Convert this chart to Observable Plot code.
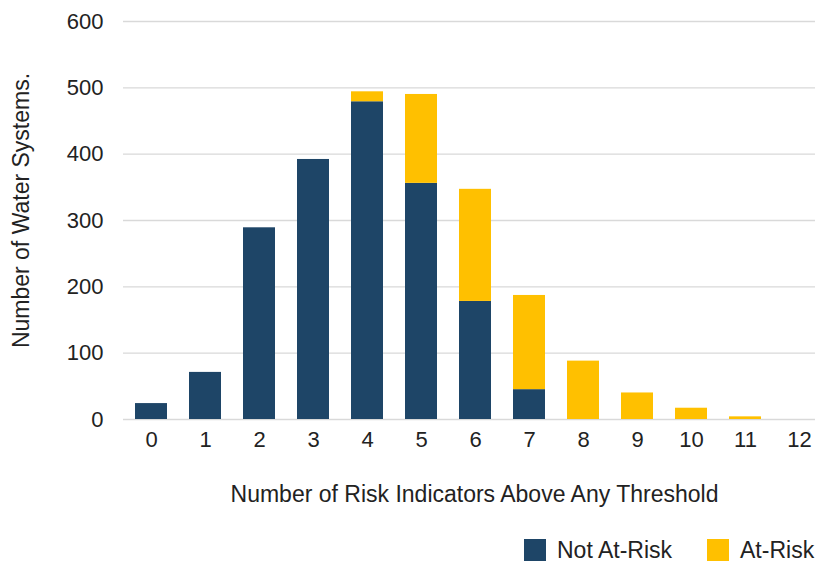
<!DOCTYPE html>
<html>
<head>
<meta charset="utf-8">
<script src="https://cdn.jsdelivr.net/npm/d3@7"></script>
<script src="https://cdn.jsdelivr.net/npm/@observablehq/plot@0.6"></script>
<style>
  body { margin: 0; background: #fff; font-family: "Liberation Sans", Arial, sans-serif; }
  #wrap { position: relative; width: 815px; height: 564px; overflow: hidden; }
  #legend { position: absolute; left: 524px; top: 539px; display: flex; align-items: center; font-size: 23px; line-height: 22px; color: #222; white-space: nowrap; }
  #legend .sw { width: 22px; height: 22px; display: inline-block; margin-right: 11px; }
  #legend .item { display: flex; align-items: center; margin-right: 35px; }
  #legend .item:last-child { margin-right: 0; }
</style>
</head>
<body>
<div id="wrap"><div id="legend"></div></div>
<script>
const categories = ["0","1","2","3","4","5","6","7","8","9","10","11","12"];
const notAtRisk = [24, 71, 289, 392, 479, 356, 178, 45, 0, 0, 0, 0, 0];
const atRisk    = [0, 0, 0, 0, 15, 134, 169, 142, 88, 40, 17, 4, 0];
const series = ["Not At-Risk", "At-Risk"];
const colors = ["#1e4567", "#ffc000"];
const yTicks = [0, 100, 200, 300, 400, 500, 600];
const xLabel = "Number of Risk Indicators Above Any Threshold";
const yLabel = "Number of Water Systems.";

const rows = [];
categories.forEach((c, i) => rows.push({k: c, s: series[0], v: notAtRisk[i]}));
categories.forEach((c, i) => rows.push({k: c, s: series[1], v: atRisk[i]}));

const chart = Plot.plot({
  width: 815, height: 515,
  marginTop: 21, marginBottom: 96, marginLeft: 123, marginRight: 0,
  style: {fontFamily: "'Liberation Sans', Arial, sans-serif", fontSize: "22px", color: "#222", background: "white"},
  x: {domain: categories, paddingInner: 0.407, paddingOuter: 0.11, align: 1, label: null},
  y: {domain: [0, 600], label: null},
  color: {domain: series, range: colors},
  marks: [
    Plot.gridY(yTicks, {stroke: "#d9d9d9", strokeOpacity: 1, strokeWidth: 1.3}),
    Plot.barY(rows, {x: "k", y: "v", fill: "s"}),
    Plot.axisX({tickSize: 0, tickPadding: 12, label: null}),
    Plot.axisY(yTicks, {tickSize: 0, tickPadding: 20, label: null}),
    Plot.text([xLabel], {frameAnchor: "bottom", lineAnchor: "middle", textAnchor: "middle", fontSize: 23, dy: 75, dx: 5}),
    Plot.text([yLabel], {frameAnchor: "left", lineAnchor: "middle", textAnchor: "middle", fontSize: 23, rotate: -90, dx: -102, dy: -10})
  ]
});
const wrap = document.getElementById("wrap");
wrap.insertBefore(chart, wrap.firstChild);

const legend = document.getElementById("legend");
series.forEach((s, i) => {
  const item = document.createElement("div");
  item.className = "item";
  const sw = document.createElement("span");
  sw.className = "sw";
  sw.style.background = colors[i];
  item.appendChild(sw);
  item.appendChild(document.createTextNode(s));
  legend.appendChild(item);
});
</script>
</body>
</html>
